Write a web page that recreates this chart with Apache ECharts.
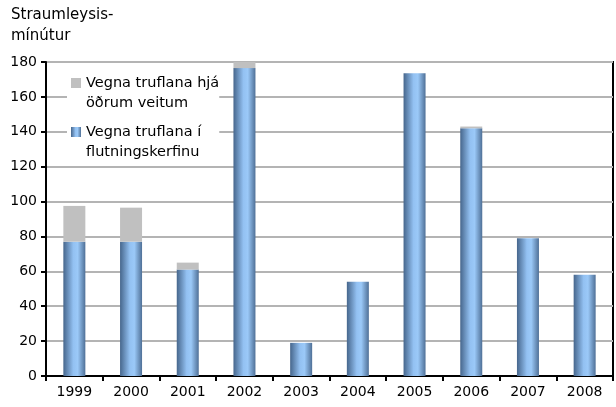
<!DOCTYPE html>
<html>
<head>
<meta charset="utf-8">
<script src="https://cdn.jsdelivr.net/npm/echarts@6/dist/echarts.min.js"></script>
<style>
  html, body { margin: 0; padding: 0; background: #fff; }
  #chart { width: 616px; height: 407px; }
</style>
</head>
<body>
<div id="chart"></div>
<script>
// gögn lesin af myndinni
var years = ['1999', '2000', '2001', '2002', '2003', '2004', '2005', '2006', '2007', '2008'];
var flutningskerfi = [77, 77, 61, 176.5, 19, 54, 173.5, 142, 79, 58];
var adrirVeitur = [20.5, 19.5, 4, 3.5, 0, 0, 0, 1, 0, 0];

var nameBlue = 'Vegna truflana í\nflutningskerfinu';
var nameGray = 'Vegna truflana hjá\nöðrum veitum';

var blueFill = new echarts.graphic.LinearGradient(0, 0, 1, 0, [
    { offset: 0, color: '#46668c' },
    { offset: 0.45, color: '#93c1f2' },
    { offset: 0.65, color: '#9bc9f8' },
    { offset: 1, color: '#4f7097' }
]);

// ferningur efst í tákninu svo hann standi við fyrri línu textans
var legendIcon = 'path://M0,0L10,0L10,10L0,10Z M0,30L0.01,30';

var myChart = echarts.init(document.getElementById('chart'));

var option = {
    animation: false,
    textStyle: { fontFamily: 'DejaVu Sans' },
    title: {
        text: 'Straumleysis-\nmínútur',
        left: 6,
        top: 0,
        textStyle: { fontSize: 15, fontWeight: 'normal', color: '#000', lineHeight: 21, fontFamily: 'DejaVu Sans' }
    },
    legend: {
        orient: 'vertical',
        left: 67,
        top: 69,
        backgroundColor: '#fff',
        padding: [4, 0, 4, 4],
        itemGap: 9,
        itemWidth: 10,
        itemHeight: 30,
        icon: legendIcon,
        textStyle: { fontSize: 14.5, color: '#000', lineHeight: 20, fontFamily: 'DejaVu Sans' },
        data: [nameGray, nameBlue]
    },
    grid: {
        left: 46,
        right: 3,
        top: 62,
        bottom: 31,
        show: true,
        borderColor: '#000',
        borderWidth: 2
    },
    xAxis: {
        type: 'category',
        data: years,
        axisLine: { lineStyle: { color: '#000', width: 2 } },
        axisTick: { show: true, inside: false, length: 5, lineStyle: { color: '#000', width: 2 } },
        axisLabel: { fontSize: 14, color: '#000', margin: 9 }
    },
    yAxis: {
        type: 'value',
        min: 0,
        max: 180,
        interval: 20,
        axisLine: { show: true, lineStyle: { color: '#000', width: 2 } },
        axisTick: { show: true, length: 5, lineStyle: { color: '#000', width: 2 } },
        axisLabel: { fontSize: 14, color: '#000', margin: 9 },
        splitLine: { lineStyle: { color: '#b4b4b4', width: 2 } }
    },
    series: [
        {
            name: nameBlue,
            type: 'bar',
            stack: 'samtals',
            barWidth: 22,
            itemStyle: { color: blueFill },
            data: flutningskerfi
        },
        {
            name: nameGray,
            type: 'bar',
            stack: 'samtals',
            barWidth: 22,
            itemStyle: { color: '#c0c0c0' },
            data: adrirVeitur
        }
    ]
};
myChart.setOption(option);
</script>
</body>
</html>
